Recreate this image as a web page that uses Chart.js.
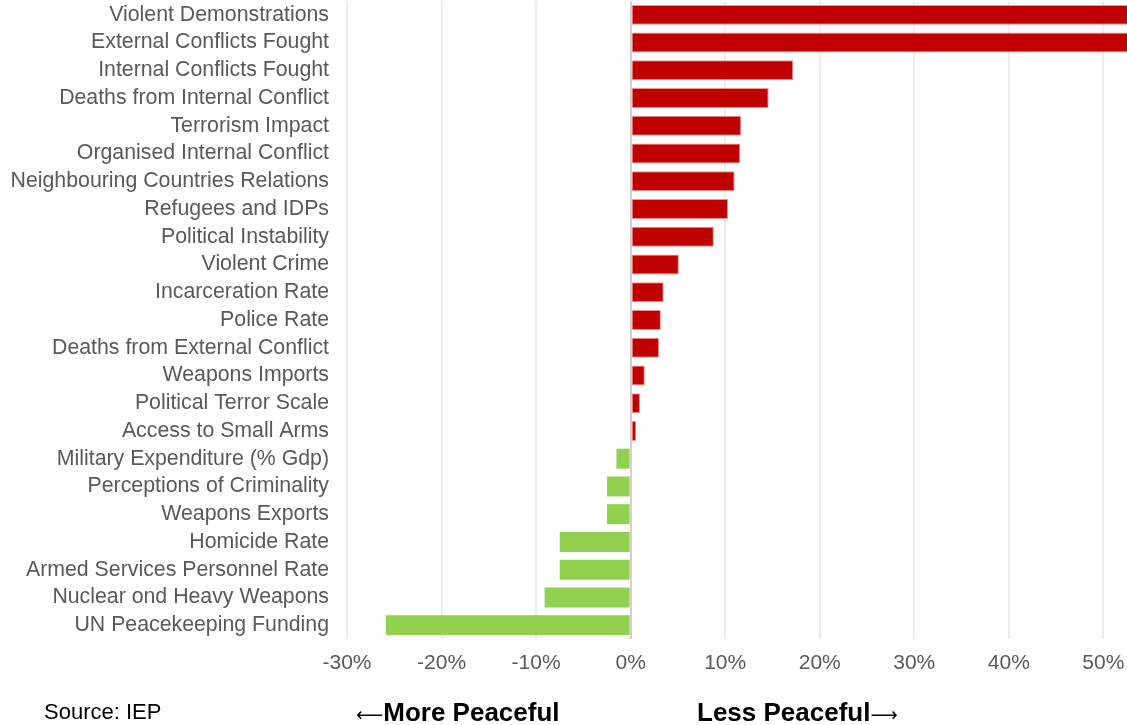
<!DOCTYPE html>
<html>
<head>
<meta charset="utf-8">
<script src="https://cdn.jsdelivr.net/npm/chart.js@4.4.1/dist/chart.umd.min.js"></script>
<style>
  body { margin: 0; background: #fff; font-family: "Liberation Sans", Arial, sans-serif; }
  #wrap { position: relative; width: 1127px; height: 725px; }
  .note { position: absolute; white-space: nowrap; color: #000; line-height: 30px; }
  #source { left: 44px; top: 697px; font-size: 22px; }
  .dir { top: 697px; font-size: 26px; font-weight: bold; }
  .arr { font-family: "DejaVu Sans", sans-serif; font-weight: normal; font-size: 19px; vertical-align: 0px; }
  #more { left: 356px; }
  #less { left: 697px; }
</style>
</head>
<body>
<div id="wrap">
  <canvas id="chart" width="1127" height="725"></canvas>
  <div class="note" id="source">Source: IEP</div>
  <div class="note dir" id="more"><span class="arr">⟵</span>More Peaceful</div>
  <div class="note dir" id="less">Less Peaceful<span class="arr">⟶</span></div>
</div>
<script>
// indicators, change in score (%)
const indicators = [
  'Violent Demonstrations', 'External Conflicts Fought', 'Internal Conflicts Fought',
  'Deaths from Internal Conflict', 'Terrorism Impact', 'Organised Internal Conflict',
  'Neighbouring Countries Relations', 'Refugees and IDPs', 'Political Instability',
  'Violent Crime', 'Incarceration Rate', 'Police Rate', 'Deaths from External Conflict',
  'Weapons Imports', 'Political Terror Scale', 'Access to Small Arms',
  'Military Expenditure (% Gdp)', 'Perceptions of Criminality', 'Weapons Exports',
  'Homicide Rate', 'Armed Services Personnel Rate', 'Nuclear ond Heavy Weapons',
  'UN Peacekeeping Funding'
];
const changes = [
  58, 56, 17.2, 14.6, 11.7, 11.6, 11.0, 10.3, 8.8,
  5.1, 3.5, 3.2, 3.0, 1.5, 1.0, 0.6,
  -1.5, -2.5, -2.5, -7.5, -7.5, -9.1, -25.9
];
const xTicks = [-30, -20, -10, 0, 10, 20, 30, 40, 50];

const worse = '#C00000';
const better = '#92D050';
const textGrey = '#595959';

new Chart(document.getElementById('chart'), {
  type: 'bar',
  data: {
    labels: indicators,
    datasets: [{
      data: changes,
      backgroundColor: changes.map(v => v >= 0 ? worse : better),
      borderColor: changes.map(v => v >= 0 ? 'rgba(240,120,120,0.8)' : better),
      borderWidth: changes.map(v => v >= 0 ? 1 : 0),
      borderSkipped: false,
      categoryPercentage: 0.72,
      barPercentage: 1
    }]
  },
  options: {
    indexAxis: 'y',
    responsive: false,
    animation: false,
    layout: { padding: { top: 1, right: 0, bottom: 36, left: 0 } },
    plugins: { legend: { display: false }, tooltip: { enabled: false } },
    scales: {
      x: {
        min: -30,
        max: 52.5,
        afterBuildTicks: scale => {
          scale.ticks = xTicks.map(v => ({ value: v }));
        },
        afterFit: scale => {
          scale.height = 50;
          scale.paddingLeft = 0;
          scale.paddingRight = 0;
        },
        grid: {
          drawTicks: false,
          lineWidth: 2,
          color: ctx => ctx.tick && ctx.tick.value === 0 ? '#d0d0d0' : '#ededed'
        },
        border: { display: false },
        ticks: {
          padding: 12,
          maxRotation: 0,
          color: textGrey,
          font: { family: 'Liberation Sans', size: 21 },
          callback: v => v + '%'
        }
      },
      y: {
        afterFit: scale => {
          scale.width = 347;
          scale.paddingTop = 0;
          scale.paddingBottom = 0;
        },
        grid: { display: false, drawTicks: false },
        border: { display: false },
        ticks: {
          padding: 18,
          autoSkip: false,
          color: textGrey,
          font: { family: 'Liberation Sans', size: 21.3 }
        }
      }
    }
  }
});
</script>
</body>
</html>
